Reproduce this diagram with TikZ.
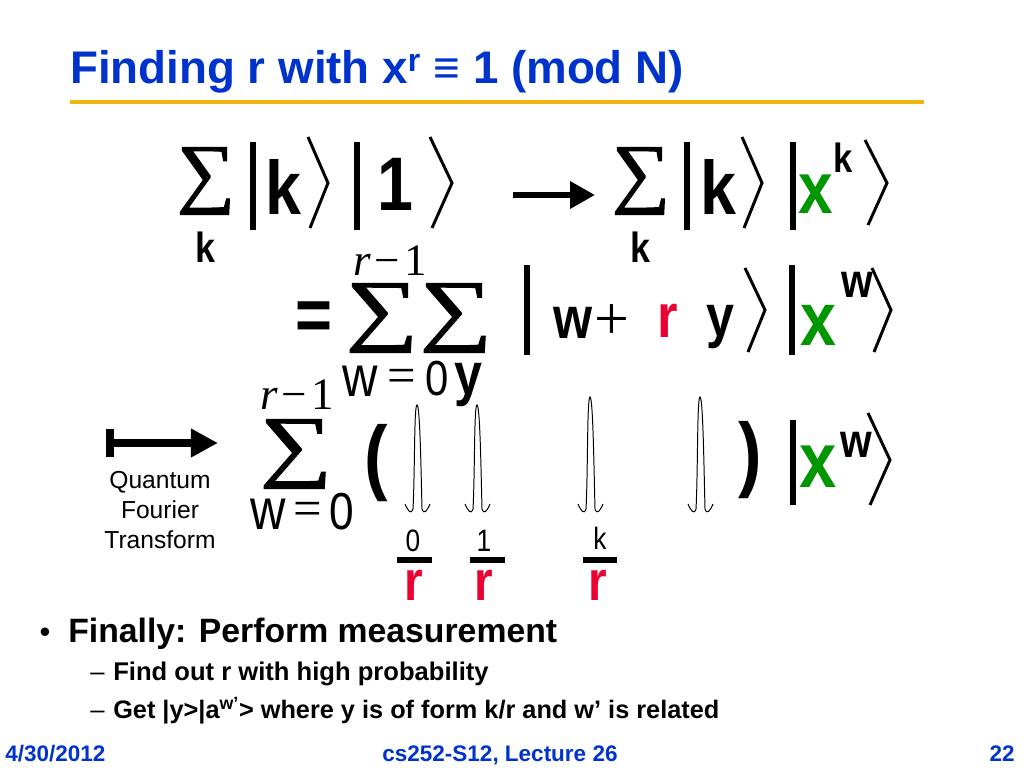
\documentclass[tikz,border=0pt]{standalone}
\usepackage{fontspec}
\usepackage{graphicx}
\setmainfont{Liberation Sans}
\newfontfamily\cbf[FakeStretch=0.85]{Liberation Sans Bold}
\newfontfamily\crm[FakeStretch=0.85]{Liberation Sans}
\newfontfamily\tms{Liberation Serif}
\newfontfamily\tmsum[FakeBold=1.6]{Liberation Serif}
\usetikzlibrary{arrows.meta}
\definecolor{titleblue}{RGB}{0,51,204}
\definecolor{rulegold}{RGB}{240,180,20}
\definecolor{xgreen}{RGB}{0,150,0}
\definecolor{rred}{RGB}{235,0,50}

\begin{document}
\begin{tikzpicture}[
    x=0.025cm, y=-0.025cm,
    every node/.style={inner sep=0pt},
    cb/.style={font=\cbf\fontsize{#1}{#1}\selectfont},
    cr/.style={font=\crm\fontsize{#1}{#1}\selectfont},
    tm/.style={font=\tms\fontsize{#1}{#1}\selectfont},
    slidetitle/.style={font=\bfseries\fontsize{32.5}{32.5}\selectfont, text=titleblue},
    foot/.style={font=\bfseries\fontsize{16}{16}\selectfont, text=titleblue},
    kbar/.style={line width=4.3pt},
    kang/.style={line width=2.1pt, line join=miter},
    fbar/.style={line width=4.3pt},
    spike/.style={line width=0.7pt},
    bigarrow/.style={line width=4.3pt, -{Triangle[length=0.62cm,width=0.65cm]}},
    qftarrow/.style={line width=5.5pt, {Bar[width=0.7cm]}-{Triangle[length=0.68cm,width=0.68cm]}}
]
\fill[white] (0,0) rectangle (1024,768);
\useasboundingbox (0,0) rectangle (1024,768);

% Title
\node[slidetitle, anchor=base west] (title) at (70,84) {Finding r with x\textsuperscript{r} ≡ 1 (mod N)};
\draw[rulegold, line width=2.8pt] (70,102) -- (924,102);

% first line
\node (s1) at (206,181) {\resizebox*{1.45cm}{1.68cm}{\tmsum ∑}};
\node[cb=30] (s1k) at (205,247) {k};
\draw[kbar] (253,142) -- (253,230);
\node[cb=54] (k1) at (283,187) {k};
\draw[kang] (308,137) -- (328,183) -- (310,228);
\draw[kbar] (357,142) -- (357,230);
\node[cb=54] (one) at (395,184) {1};
\draw[kang] (430,137) -- (452,183) -- (432,228);
\coordinate (arA) at (513,195);
\coordinate (arB) at (595,195);
\draw[bigarrow] (arA) -- (arB);
\node (s2) at (641,181) {\resizebox*{1.45cm}{1.68cm}{\tmsum ∑}};
\node[cb=30] (s2k) at (640,247) {k};
\draw[kbar] (687,142) -- (687,230);
\node[cb=54] (k2) at (718,187) {k};
\draw[kang] (742,137) -- (762,183) -- (744,228);
\draw[kbar] (793,142) -- (793,230);
\node[cb=52, text=xgreen] (x1) at (816,194) {x};
\node[cb=29] (x1k) at (843,158) {k};
\draw[kang] (865,140) -- (887,183) -- (868,225);

% second line
\node[tm=32] (rma) at (390,261) {\textit{r}\kern2.8pt−\kern2.8pt1};
\node[cb=53] (eq1) at (314,321) {=};
\node (s3) at (382,318) {\resizebox*{1.8cm}{1.72cm}{\tmsum ∑}};
\node (s4) at (456,318) {\resizebox*{1.8cm}{1.72cm}{\tmsum ∑}};
\draw[kbar] (527,265) -- (527,355);
\node[cb=42] (w1) at (573,323) {w};
\node[tm=44] (plus) at (612,322) {+};
\node[cb=44, text=rred] (r1) at (668,321) {r};
\node[cb=42] (y1) at (720,327) {y};
\draw[kang] (745,268) -- (765,310) -- (748,352);
\draw[kbar] (792,265) -- (792,355);
\node[cb=54, text=xgreen] (x2) at (818,325) {x};
\node[cb=34] (x2w) at (857,285) {w};
\draw[kang] (872,268) -- (891,310) -- (874,352);
\node[cr=41] (w2) at (360,381) {w};
\node[tm=36] (eq2) at (402,381) {=};
\node[cr=35] (z2) at (437,379) {0};
\node[cb=42] (y2) at (468,385) {y};

% third line
\node[tm=32] (rmb) at (297,395) {\textit{r}\kern2.8pt−\kern2.8pt1};
\node (s5) at (296,454) {\resizebox*{1.8cm}{1.72cm}{\tmsum ∑}};
\node[cr=41] (w3) at (268,514) {w};
\node[tm=36] (eq3) at (308,514) {=};
\node[cr=37] (z3) at (342,512) {0};
\node[cb=59] (lp) at (376,463) {(};
\foreach \cx/\top in {417/405, 477/405, 590/397, 700/397}
  \draw[spike] ({\cx-12},504) .. controls ({\cx-9},511) and ({\cx-6},515) .. ({\cx-4},509)
    .. controls ({\cx-2},470) and ({\cx-3},\top) .. (\cx,\top)
    .. controls ({\cx+3},\top) and ({\cx+4},470) .. ({\cx+5},509)
    .. controls ({\cx+7},515) and ({\cx+10},511) .. ({\cx+13},504);
\node[cb=59] (rp) at (750,460) {)};
\draw[kbar] (793,420) -- (793,505);
\node[cb=56, text=xgreen] (x3) at (818,467) {x};
\node[cb=34] (x3w) at (856,445) {w};
\draw[kang] (868,413) -- (890,460) -- (870,505);

% fractions under the peaks
\node[cr=22] (n0) at (413,541) {0};
\draw[fbar] (397,560) -- (432,560);
\node[cb=40, text=rred] (d0) at (414,585) {r};
\node[cr=22] (n1) at (484,541) {1};
\draw[fbar] (470,560) -- (505,560);
\node[cb=40, text=rred] (d1) at (484,585) {r};
\node[cr=22] (nk) at (600,538) {k};
\draw[fbar] (583,560) -- (617,560);
\node[cb=40, text=rred] (dk) at (598,585) {r};

% QFT arrow
\coordinate (qa) at (106,443);
\coordinate (qb) at (218,443);
\draw[qftarrow] (qa) -- (qb);
\node[align=center, font=\fontsize{17.5}{21.3}\selectfont] (qft) at (160,510) {Quantum\\Fourier\\Transform};

% bullets
\node[anchor=base, font=\fontsize{22}{22}\selectfont] (dot1) at (45,642) {•};
\node[anchor=base west, font=\bfseries\fontsize{24}{24}\selectfont] (b1) at (68,642) {Finally: Perform measurement};
\node[anchor=base west, font=\fontsize{18.2}{18.2}\selectfont] (dash2) at (90,680) {–};
\node[anchor=base west, font=\bfseries\fontsize{18.2}{18.2}\selectfont] (b2) at (113,680) {Find out r with high probability};
\node[anchor=base west, font=\fontsize{18.2}{18.2}\selectfont] (dash3) at (90,718) {–};
\node[anchor=base west, font=\bfseries\fontsize{18}{18}\selectfont] (b3) at (113,718) {Get |y>|a\textsuperscript{w’}> where y is of form k/r and w’ is related};

% footer
\node[foot, anchor=base west] (date) at (5,761) {4/30/2012};
\node[foot, anchor=base] (course) at (500,761) {cs252-S12, Lecture 26};
\node[foot, anchor=base east] (pg) at (1015,761) {22};

\end{tikzpicture}
\end{document}
